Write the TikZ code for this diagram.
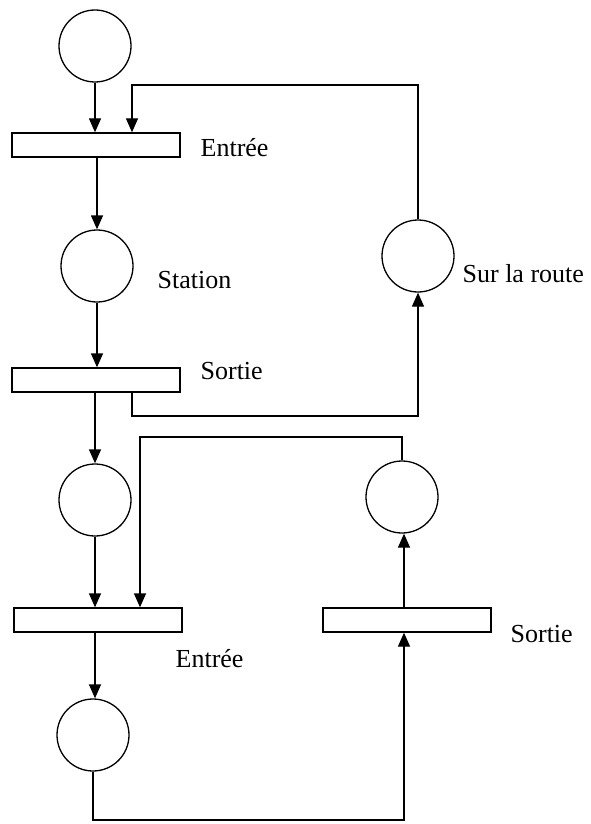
\documentclass[tikz,border=0pt]{standalone}
\usepackage{fontspec}
\setmainfont{Liberation Serif}
\usetikzlibrary{arrows.meta}
\begin{document}
\begin{tikzpicture}[x=1pt,y=-1pt,
  line width=1.3pt,
  place/.style={draw,circle,minimum size=72pt,inner sep=0pt},
  trans/.style={draw,rectangle,minimum width=168pt,minimum height=24pt,inner sep=0pt},
  lbl/.style={anchor=base west,inner sep=0pt,font=\fontsize{26}{30}\selectfont},
  arc/.style={-{Triangle[length=14pt,width=12pt]}}]
\useasboundingbox (0,0) rectangle (590,824);

% places
\node[place] (p1) at (95,46) {};
\node[place] (p2) at (97,266) {};
\node[place] (p3) at (418,256) {};
\node[place] (p4) at (95,500) {};
\node[place] (p5) at (93,735) {};
\node[place] (p6) at (402,497) {};

% transitions
\node[trans] (t1) at (96,145) {};
\node[trans] (t2) at (96,380) {};
\node[trans] (t3) at (98,620) {};
\node[trans] (t4) at (407,620) {};

% labels
\node[lbl] at (200,156) {Entrée};
\node[lbl] at (157,288) {Station};
\node[lbl] at (200,379) {Sortie};
\node[lbl] at (462,282) {Sur la route};
\node[lbl] at (175,667) {Entrée};
\node[lbl] at (510,642) {Sortie};

% corner points of the routed arcs
\coordinate (c1) at (132,85);
\coordinate (c2) at (132,416);
\coordinate (c3) at (140,437);
\coordinate (c4) at (404,820);

% arcs
\draw[arc] (p1.south) -- (p1.south |- t1.north);
\draw[arc] (p3.north) |- (c1) -- (c1 |- t1.north);
\draw[arc] (p2.north |- t1.south) -- (p2.north);
\draw[arc] (p2.south) -- (p2.south |- t2.north);
\draw[arc] (c2 |- t2.south) -- (c2) -| (p3.south);
\draw[arc] (p4.north |- t2.south) -- (p4.north);
\draw[arc] (p4.south) -- (p4.south |- t3.north);
\draw[arc] (p6.north) |- (c3) -- (c3 |- t3.north);
\draw[arc] (p4.north |- t3.south) -- (p4.north |- p5.north);
\draw[arc] (p5.south) |- (c4) -- (c4 |- t4.south);
\draw[arc] (c4 |- t4.north) -- (c4 |- p6.south);
\end{tikzpicture}
\end{document}
